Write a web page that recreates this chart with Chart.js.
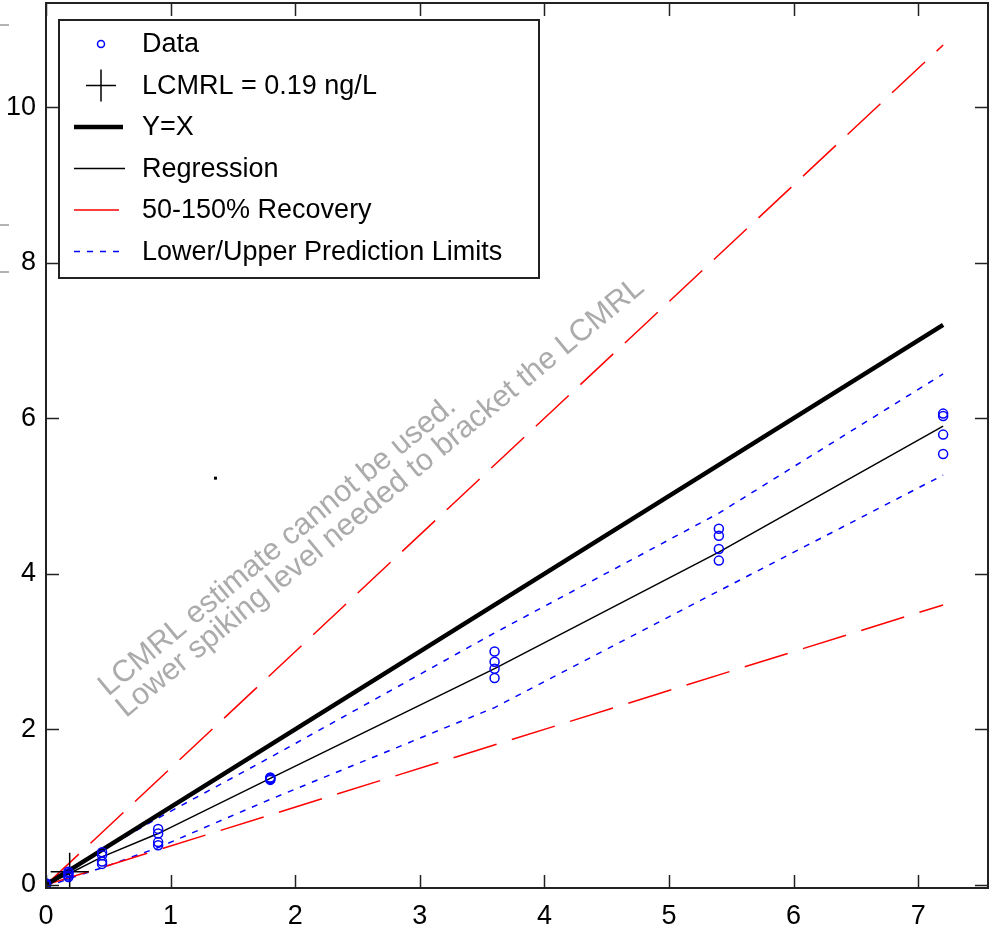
<!DOCTYPE html>
<html>
<head>
<meta charset="utf-8">
<title>LCMRL</title>
<script src="https://cdn.jsdelivr.net/npm/chart.js@4.4.1/dist/chart.umd.min.js"></script>
<style>
  html, body { margin: 0; padding: 0; background: #fff; }
  #wrap { width: 999px; height: 930px; }
</style>
</head>
<body>
<div id="wrap"><canvas id="lcmrlChart" width="999" height="930"></canvas></div>
<script>
// ===== Data =====
const spikes = [0, 0.18, 0.45, 0.9, 1.8, 3.6, 5.4, 7.2];
// measured replicates per spiking level
const replicates = [
  [0, 0, 0.01, 0.02],
  [0.10, 0.12, 0.15, 0.17],
  [0.27, 0.30, 0.38, 0.42],
  [0.51, 0.55, 0.66, 0.72],
  [1.35, 1.36, 1.37, 1.38],
  [2.66, 2.78, 2.87, 3.00],
  [4.17, 4.32, 4.49, 4.58],
  [5.54, 5.79, 6.03, 6.06]
];
const regression = [0, 0.14, 0.36, 0.66, 1.37, 2.78, 4.28, 5.90];
const lowerPL = [-0.03, 0.08, 0.22, 0.48, 1.10, 2.28, 3.78, 5.27];
const upperPL = [0.03, 0.20, 0.45, 0.86, 1.64, 3.24, 4.78, 6.57];

const lineEnds = [0, 7.2];
const yEqualsX = [0, 7.2];
const recovery50 = [0, 3.6];
const recovery150 = [0, 10.8];

const lcmrlX = 0.19;
const lcmrlY = 0.17;

const xTicks = [0, 1, 2, 3, 4, 5, 6, 7];
const yTicks = [0, 2, 4, 6, 8, 10];

const noteLines = [
  "LCMRL estimate cannot be used.",
  "Lower spiking level needed to bracket the LCMRL"
];

// ===== Helpers =====
const FONT = '"Liberation Sans", Arial, sans-serif';
const pairs = (xs, ys) => xs.map((x, i) => ({ x, y: ys[i] }));
const dataPoints = [];
spikes.forEach((s, i) => replicates[i].forEach(v => dataPoints.push({ x: s, y: v })));

const lineSet = (label, ys, xs, color, width, dash, inLegend = true) => ({
  label,
  data: pairs(xs, ys),
  showLine: true,
  borderColor: color,
  backgroundColor: color,
  borderWidth: width,
  borderDash: dash,
  pointRadius: 0,
  inLegend
});

// ===== Legend inside plot + frame + note =====
const plotDecor = {
  id: "plotDecor",
  afterDraw(chart) {
    const { ctx, chartArea: a, scales } = chart;
    const xs = scales.x, ys = scales.y;
    ctx.save();

    // stray marks at left margin
    ctx.strokeStyle = "#9a9a9a";
    ctx.lineWidth = 1.5;
    [25, 225, 272].forEach(y => {
      ctx.beginPath(); ctx.moveTo(0, y); ctx.lineTo(9, y); ctx.stroke();
    });

    // axes box with inward ticks
    ctx.strokeStyle = "#222";
    ctx.lineWidth = 2;
    ctx.strokeRect(a.left, a.top, a.right - a.left, a.bottom - a.top);
    ctx.lineWidth = 1.5;
    const tl = 13;
    xs.ticks.forEach(t => {
      const px = Math.round(xs.getPixelForValue(t.value)) + 0.5;
      ctx.beginPath();
      ctx.moveTo(px, a.bottom); ctx.lineTo(px, a.bottom - tl);
      ctx.moveTo(px, a.top); ctx.lineTo(px, a.top + tl);
      ctx.stroke();
    });
    ys.ticks.forEach(t => {
      const py = Math.round(ys.getPixelForValue(t.value)) + 0.5;
      ctx.beginPath();
      ctx.moveTo(a.left, py); ctx.lineTo(a.left + tl, py);
      ctx.moveTo(a.right, py); ctx.lineTo(a.right - tl, py);
      ctx.stroke();
    });

    // tiny dot in the empty region
    ctx.fillStyle = "#000";
    ctx.fillRect(xs.getPixelForValue(1.36) - 1.5, ys.getPixelForValue(5.23) - 1.5, 3, 3);

    // rotated note
    ctx.save();
    ctx.translate(xs.getPixelForValue(0.5), ys.getPixelForValue(2.42));
    ctx.rotate(-39.5 * Math.PI / 180);
    ctx.fillStyle = "#ababab";
    ctx.font = `30.5px ${FONT}`;
    ctx.textBaseline = "alphabetic";
    ctx.textAlign = "left";
    noteLines.forEach((t, i) => ctx.fillText(t, 0, i * 28));
    ctx.restore();

    // legend box
    const box = { x: 59, y: 20, w: 480, h: 258 };
    ctx.fillStyle = "#fff";
    ctx.fillRect(box.x, box.y, box.w, box.h);
    ctx.strokeStyle = "#222";
    ctx.lineWidth = 2;
    ctx.strokeRect(box.x, box.y, box.w, box.h);

    const entries = chart.data.datasets.filter(d => d.inLegend);
    const rowY = i => 44 + i * 41.5;
    const symX = 101, sx0 = 74, sx1 = 125, textX = 142;
    entries.forEach((d, i) => {
      const y = rowY(i);
      ctx.save();
      ctx.strokeStyle = d.borderColor;
      if (d.pointStyle === "cross") {
        ctx.lineWidth = 1.5;
        ctx.beginPath();
        ctx.moveTo(symX - 15, y); ctx.lineTo(symX + 15, y);
        ctx.moveTo(symX, y - 16); ctx.lineTo(symX, y + 16);
        ctx.stroke();
      } else if (!d.showLine) {
        ctx.lineWidth = 1.5;
        ctx.beginPath();
        ctx.arc(symX, y, 3.5, 0, Math.PI * 2);
        ctx.stroke();
      } else {
        ctx.lineWidth = d.borderWidth;
        ctx.setLineDash(d.borderDash || []);
        ctx.beginPath();
        ctx.moveTo(sx0, y); ctx.lineTo(d.borderWidth > 3 ? 123 : sx1, y);
        ctx.stroke();
      }
      ctx.restore();
      ctx.fillStyle = "#000";
      ctx.font = `27px ${FONT}`;
      ctx.textBaseline = "middle";
      ctx.textAlign = "left";
      ctx.fillText(d.label, textX, y + 1);
    });
    ctx.restore();
  }
};

// ===== Chart =====
const ctx = document.getElementById("lcmrlChart").getContext("2d");
new Chart(ctx, {
  type: "scatter",
  data: {
    datasets: [
      {
        label: "Data",
        data: dataPoints,
        pointStyle: "circle",
        pointRadius: 4.5,
        borderColor: "#0000ff",
        backgroundColor: "rgba(0,0,0,0)",
        borderWidth: 1.5,
        showLine: false,
        inLegend: true
      },
      {
        label: `LCMRL = ${lcmrlX} ng/L`,
        data: [{ x: lcmrlX, y: lcmrlY }],
        pointStyle: "cross",
        pointRadius: 19,
        borderColor: "#000",
        borderWidth: 1.5,
        showLine: false,
        inLegend: true
      },
      lineSet("Y=X", yEqualsX, lineEnds, "#000", 4.5, []),
      lineSet("Regression", regression, spikes, "#000", 1.5, []),
      lineSet("50-150% Recovery", recovery150, lineEnds, "#ff0000", 1.5, [45, 16]),
      lineSet("50-150% Recovery", recovery50, lineEnds, "#ff0000", 1.5, [45, 16], false),
      lineSet("Lower/Upper Prediction Limits", upperPL, spikes, "#0000ff", 1.5, [6, 7]),
      lineSet("Lower/Upper Prediction Limits", lowerPL, spikes, "#0000ff", 1.5, [6, 7], false)
    ]
  },
  options: {
    responsive: false,
    animation: false,
    layout: { autoPadding: false, padding: { top: 3, right: 11, left: 0, bottom: 0 } },
    plugins: {
      legend: { display: false },
      tooltip: { enabled: false }
    },
    scales: {
      x: {
        type: "linear",
        min: 0,
        max: 7.56,
        grid: { display: false, drawTicks: false },
        border: { display: false },
        ticks: { color: "#000", padding: 12, font: { family: FONT, size: 27 } },
        afterBuildTicks: s => { s.ticks = xTicks.map(v => ({ value: v })); },
        afterFit: s => { s.height = 42; s.paddingLeft = 0; s.paddingRight = 0; }
      },
      y: {
        type: "linear",
        min: -0.04,
        max: 11.34,
        grid: { display: false, drawTicks: false },
        border: { display: false },
        ticks: { color: "#000", padding: 10, font: { family: FONT, size: 27 } },
        afterBuildTicks: s => { s.ticks = yTicks.map(v => ({ value: v })); },
        afterFit: s => { s.width = 46; s.paddingTop = 0; s.paddingBottom = 0; }
      }
    }
  },
  plugins: [plotDecor]
});
</script>
</body>
</html>
